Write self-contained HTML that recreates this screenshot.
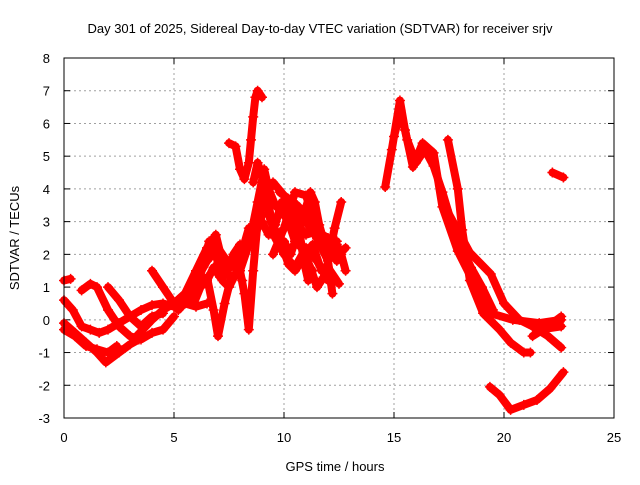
<!DOCTYPE html>
<html><head><meta charset="utf-8"><style>
body{margin:0;background:#fff;}
svg text{font-family:"Liberation Sans",sans-serif;font-size:13px;fill:#000;}
</style></head><body>
<svg id="chart" width="640" height="480">
<g id="grid"></g>
<g id="ticks"></g>
<g id="series"></g>
<rect x="64" y="58" width="550" height="360" fill="none" stroke="#000" stroke-width="1"/>
<text x="320" y="33" text-anchor="middle">Day 301 of 2025, Sidereal Day-to-day VTEC variation (SDTVAR) for receiver srjv</text>
<text x="335" y="471" text-anchor="middle">GPS time / hours</text>
<text x="19" y="238" text-anchor="middle" transform="rotate(-90 19 238)">SDTVAR / TECUs</text>
</svg>
<script>
const xTicks=[0,5,10,15,20,25];
const yTicks=[-3,-2,-1,0,1,2,3,4,5,6,7,8];
const tracks=[
[[0,-0.1],[0.5,-0.4],[1,-0.7],[1.5,-1.0],[1.9,-1.3],[2.5,-1.0],[3,-0.75],[3.4,-0.6]],
[[0,0.6],[0.4,0.3],[0.8,-0.2],[1.2,-0.3],[1.6,-0.4],[2,-0.3],[2.5,-0.1],[3,0.1],[3.5,0.3],[4,0.45],[4.5,0.5],[5,0.4],[5.5,0.5],[6,0.4],[6.5,0.5]],
[[0,-0.3],[0.5,-0.5],[1,-0.8],[1.5,-0.9],[2,-1.0],[2.4,-0.8]],
[[0.8,0.9],[1.2,1.1],[1.5,1.0],[2,0.3],[2.5,-0.2],[3,-0.5],[3.5,-0.6],[4,-0.4],[4.5,-0.3],[5,0.1]],
[[2,1.0],[2.5,0.6],[3,0.1],[3.5,-0.2],[4,0.1],[4.5,0.2]],
[[4,1.5],[4.5,1.0],[5,0.5],[5.5,0.8],[6,1.5],[6.5,2.2],[6.9,2.6],[7.3,1.5],[7.8,1.7],[8.1,1.2]],
[[0,1.2],[0.3,1.25]],
[[3.3,-0.5],[4,0],[4.5,0.3],[5,0.5],[5.5,0.8],[6,1.2],[6.5,1.8],[7,2.2],[7.5,1.7],[8,1.5],[8.5,2.5],[9,3.5],[9.5,4.2],[10,3.8],[10.5,3.5],[11,3.0],[11.5,2.5],[12,2.3],[12.4,1.8]],
[[6,0.8],[6.5,1.3],[6.8,0.3],[7,-0.5],[7.3,0.5],[7.6,1.3],[8,1.5],[8.2,0.8],[8.4,-0.3],[8.6,1.5],[8.8,3.0],[9,4.0],[9.3,3.5],[9.6,2.5],[10,2.0],[10.5,1.6],[11,2.2],[11.5,1.8],[12,1.2]],
[[7.5,5.4],[7.8,5.3],[8,4.6],[8.2,4.3],[8.4,4.8],[8.5,5.5],[8.6,6.2],[8.7,6.8],[8.8,7.0],[9,6.8]],
[[8.6,4.2],[8.8,4.8],[9,4.4],[9.2,3.5],[9.4,3.0],[9.8,2.5],[10.2,1.7],[10.5,1.5],[11,2.0],[11.3,2.3],[11.7,1.5],[12,1.6],[12.5,1.1]],
[[9.8,3.9],[10.2,3.7],[10.6,3.5],[11,3.2],[11.5,2.5],[12,1.8],[12.3,2.8],[12.6,3.6]],
[[10,3.4],[10.5,3.0],[11,2.6],[11.5,2.7],[12,2.5],[12.4,2.3],[12.6,2.0],[12.8,1.5]],
[[9.5,2.0],[10,2.8],[10.5,3.9],[11,3.8],[11.3,3.2],[11.6,2.4],[12,1.8],[12.2,0.8]],
[[5.5,0.5],[6,0.9],[6.3,1.6],[6.6,2.4],[6.9,2.0],[7.2,1.2],[7.5,1.0],[7.8,1.4],[8.1,2.1],[8.4,2.8],[8.7,2.6],[9,3.2]],
[[8.5,2.6],[8.8,3.6],[9.1,4.6],[9.3,4.0],[9.6,3.5],[9.9,3.3],[10.2,3.0],[10.5,2.4],[10.8,2.2],[11.2,1.6],[11.5,1.0],[11.8,1.3],[12.1,2.0],[12.4,2.4]],
[[10,2.4],[10.3,2.0],[10.6,2.6],[10.9,3.2],[11.2,3.9],[11.4,3.6],[11.6,2.9],[11.9,2.2],[12.2,2.5],[12.5,2.0],[12.8,2.2]],
[[9.0,3.0],[9.3,2.6],[9.6,2.9],[9.9,3.6],[10.2,3.4],[10.5,3.1],[10.7,2.7],[10.9,1.8],[11.1,1.2],[11.3,1.5]],
[[5.2,0.3],[5.6,0.6],[5.9,0.5],[6.2,1.0],[6.5,1.2],[6.8,1.6],[7.1,1.3],[7.4,1.4],[7.7,2.0],[8.0,2.3]],
[[14.6,4.06],[14.9,5.2],[15.27,6.7],[15.5,5.8],[15.86,4.67],[16.3,5.4],[16.8,5.1],[17.2,3.45],[17.9,2.1],[18.8,0.9],[19.4,0.2],[20.4,0.0],[21.6,-0.1],[22.6,0.0]],
[[15.0,5.6],[15.3,6.4],[15.6,5.5],[16.0,4.8],[16.4,5.2],[16.8,4.7],[17.2,3.9],[17.6,3.0],[18.0,2.3],[18.5,1.6],[19.0,1.0],[19.5,0.3]],
[[17.4,3.35],[18.45,2.05],[19.4,1.4],[20.0,0.5],[20.7,0.0],[21.6,-0.3],[22.6,-0.2]],
[[17.45,5.5],[17.9,4.0],[18.1,2.75],[18.45,1.2],[19.05,0.2],[19.8,-0.3],[20.3,-0.7],[20.9,-1.0],[21.2,-1.0]],
[[21.3,-0.5],[22,-0.2],[22.6,0.1]],
[[21.3,-0.2],[22,-0.5],[22.6,-0.85]],
[[19.36,-2.05],[19.8,-2.3],[20.3,-2.75],[20.9,-2.6],[21.5,-2.45],[22.1,-2.1],[22.7,-1.6]],
[[22.2,4.5],[22.7,4.35]]
];
const X=h=>64+h*22, Y=v=>58+(8-v)*360/11;
const NS='http://www.w3.org/2000/svg';
const mk=(t,a)=>{const e=document.createElementNS(NS,t);for(const k in a)e.setAttribute(k,a[k]);return e;};
const grid=document.getElementById('grid'),ticks=document.getElementById('ticks'),ser=document.getElementById('series');
xTicks.forEach(t=>{
 if(t>0&&t<25){const l=mk('line',{x1:X(t),x2:X(t),y1:58,y2:418,stroke:'#a0a0a0','stroke-dasharray':'2,3'});
 
 grid.appendChild(l);}
 const tk=mk('text',{x:X(t),y:442,'text-anchor':'middle'});tk.textContent=t;
 
 ticks.appendChild(tk);
 ticks.appendChild(mk('line',{x1:X(t),x2:X(t),y1:418,y2:412,stroke:'#000'}));
 ticks.appendChild(mk('line',{x1:X(t),x2:X(t),y1:58,y2:64,stroke:'#000'}));
});
yTicks.forEach(t=>{
 if(t>-3&&t<8){const l=mk('line',{x1:64,x2:614,y1:Y(t),y2:Y(t),stroke:'#a0a0a0','stroke-dasharray':'2,3'});
 
 grid.appendChild(l);}
 const tk=mk('text',{x:50,y:Y(t)+5,'text-anchor':'end'});tk.textContent=t;
 
 ticks.appendChild(tk);
 ticks.appendChild(mk('line',{x1:64,x2:70,y1:Y(t),y2:Y(t),stroke:'#000'}));
 ticks.appendChild(mk('line',{x1:614,x2:608,y1:Y(t),y2:Y(t),stroke:'#000'}));
});
tracks.forEach(tr=>{
 const p=mk('polyline',{points:tr.map(d=>X(d[0])+','+Y(d[1])).join(' '),fill:'none',stroke:'#f00','stroke-width':8,'stroke-linejoin':'round','stroke-linecap':'round'});
 
 
 ser.appendChild(p);
 tr.forEach(d=>{
  const m=mk('path',{d:`M${X(d[0])-5},${Y(d[1])}h10M${X(d[0])},${Y(d[1])-5}v10`,stroke:'#f00','stroke-width':1.5});
  
  
  ser.appendChild(m);
 });
});
</script>
</body></html>
